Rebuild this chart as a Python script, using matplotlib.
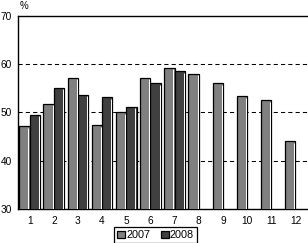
import numpy as np
import matplotlib
matplotlib.use("Agg")
import matplotlib.pyplot as plt

months = [1, 2, 3, 4, 5, 6, 7, 8, 9, 10, 11, 12]
tick_labels = [str(m) for m in months]
share_2007 = [47.2, 51.8, 57.2, 47.4, 50.0, 57.2, 59.3, 58.0, 56.0, 53.3, 52.5, 44.0]
share_2008 = [49.5, 55.1, 53.7, 53.1, 51.2, 56.0, 58.5, None, None, None, None, None]
y_ticks = [30, 40, 50, 60, 70]

plt.rcParams["font.family"] = ["Liberation Sans", "DejaVu Sans"]
plt.rcParams["font.size"] = 7.3

W, H = 308, 243
fig = plt.figure(figsize=(W / 100, H / 100), dpi=100)
ax = fig.add_axes([17.5 / W, 1 - 208.7 / H, (307.5 - 17.5) / W, (208.7 - 16) / H])

x = np.array(months, dtype=float)
v07 = np.array(share_2007, dtype=float)
v08 = np.array([np.nan if v is None else v for v in share_2008], dtype=float)
has08 = ~np.isnan(v08)

bw = 0.43
b1 = ax.bar(x - bw / 2, v07, width=bw, color="#808080", edgecolor="black",
            linewidth=0.9, zorder=3, label="2007")
b2 = ax.bar(x[has08] + bw / 2, v08[has08], width=bw, color="#404040",
            edgecolor="black", linewidth=0.9, zorder=3, label="2008")

# thin light stripe inside the right edge of every bar
for p in list(b1) + list(b2):
    xr = p.get_x() + p.get_width() - 0.05
    ax.vlines(xr, 30, p.get_height() - 0.35, color="white", lw=0.7, zorder=4)

ax.set_xlim(0.5, 12.5)
ax.set_ylim(30, 70)
ax.set_xticks(x)
ax.set_xticklabels(tick_labels)
ax.set_yticks(y_ticks)
ax.tick_params(length=0, pad=4)
ax.tick_params(axis="x", pad=5)

for yv in y_ticks[1:-1]:
    ax.axhline(yv, color="black", lw=0.75, linestyle=(0, (4, 3)), zorder=1)

for s in ["left", "top", "bottom"]:
    ax.spines[s].set_color("black")
    ax.spines[s].set_linewidth(1.0)
ax.spines["right"].set_visible(False)

fig.text(20 / W, 1 - 6 / H, "%", ha="left", va="center", fontsize=7)

leg = fig.legend(handles=[b1, b2], labels=["2007", "2008"], loc="center",
                 bbox_to_anchor=(155.5 / W, 1 - 235 / H), ncol=2,
                 frameon=True, fancybox=False, edgecolor="black", framealpha=1,
                 handlelength=0.8, handleheight=0.65, handletextpad=0.1,
                 columnspacing=1.0, borderpad=0.3, borderaxespad=0)
leg.get_frame().set_linewidth(0.9)
leg._legend_box.sep = 4
for t in leg.get_texts():
    t.set_fontsize(7.8)

fig.savefig("out.png", dpi=100)
